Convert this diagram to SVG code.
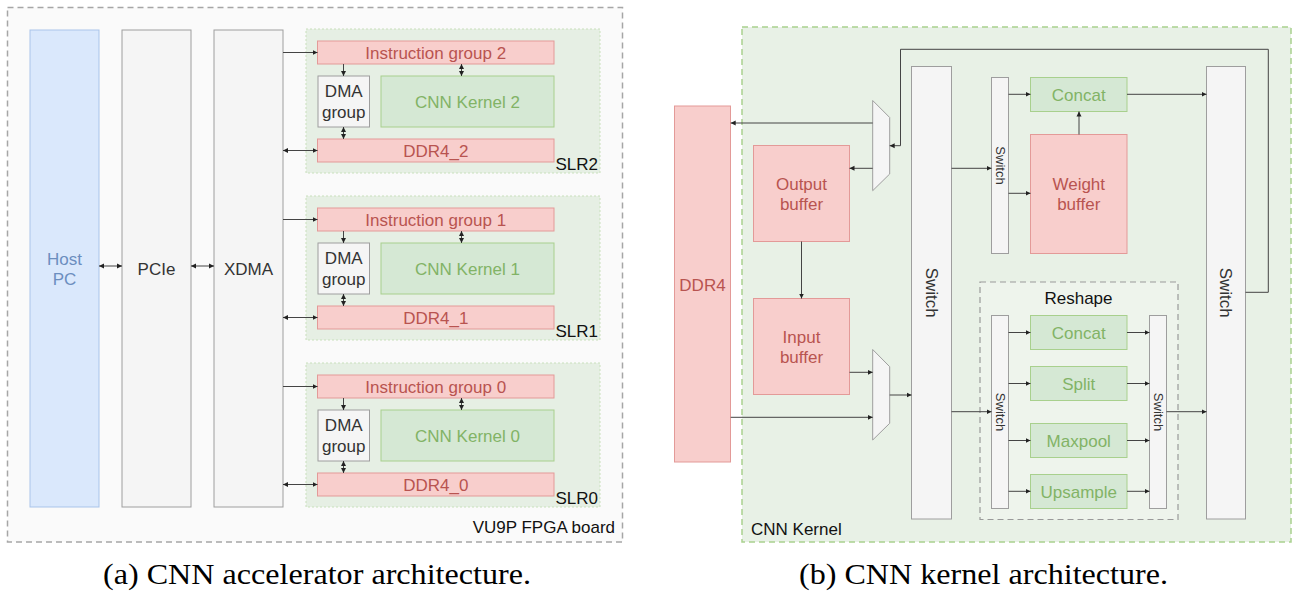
<svg xmlns="http://www.w3.org/2000/svg" width="1298" height="591" viewBox="0 0 1298 591">
<defs>
<marker id="ah" markerUnits="userSpaceOnUse" markerWidth="6" markerHeight="6" refX="5" refY="3" orient="auto-start-reverse"><path d="M0,0.5 L5,3 L0,5.5 z" fill="#222"/></marker>
<style>
text{font-family:"Liberation Sans",Arial,sans-serif;font-size:17px;text-anchor:middle}
.grey{fill:#f5f5f5;stroke:#9e9e9e;stroke-width:1}
.red{fill:#f8cecc;stroke:#e39a98;stroke-width:1}
.green{fill:#d5e8d4;stroke:#a8d08d;stroke-width:1}
.blue{fill:#dae8fc;stroke:#a9c4ea;stroke-width:1}
.tg{fill:#333}
.tr{fill:#b85450}
.tgr{fill:#82b366}
.tb{fill:#6c8ebf}
.tk{fill:#111}
.slr{fill:#e6efe4;stroke:#c9e0bc;stroke-width:1;stroke-dasharray:2 2}
.c{fill:none;stroke:#444;stroke-width:1}
.a{marker-end:url(#ah)}
.b{marker-start:url(#ah);marker-end:url(#ah)}
.cap{font-family:"Liberation Serif","Times New Roman",serif;font-size:29px;fill:#000}
.sw{font-size:13px}
</style>
</defs>

<!-- Left panel -->
<g id="fpga-board">
<rect x="7.5" y="7.5" width="615" height="534.5" fill="#fafafa" stroke="#a6a6a6" stroke-width="1.5" stroke-dasharray="6 4"/>
<text x="615" y="533" class="tk" style="text-anchor:end">VU9P FPGA board</text>
</g>
<g id="host-pc"><rect x="30" y="30" width="69" height="477" class="blue"/><text x="64.5" y="264.5" class="tb">Host</text><text x="64.5" y="285" class="tb">PC</text></g>
<g id="pcie"><rect x="122" y="30" width="69" height="477" class="grey"/><text x="156.5" y="274.5" class="tg">PCIe</text></g>
<g id="xdma"><rect x="214" y="30" width="69" height="477" class="grey"/><text x="248.5" y="274.5" class="tg">XDMA</text></g>

<g id="slr2">
<rect x="306" y="29" width="294" height="144" class="slr"/>
<text x="598" y="170" class="tk" style="text-anchor:end">SLR2</text>
</g>
<g id="instr2"><rect x="317.5" y="41" width="236.5" height="23" class="red"/><text x="435.75" y="58.5" class="tr">Instruction group 2</text></g>
<g id="dma2"><rect x="318" y="76" width="51.5" height="51" class="grey"/><text x="343.75" y="97.3" class="tg">DMA</text><text x="343.75" y="117.5" class="tg">group</text></g>
<g id="kernel2"><rect x="381" y="76" width="173" height="51" class="green"/><text x="467.5" y="107.5" class="tgr">CNN Kernel 2</text></g>
<g id="ddr4-2"><rect x="317.5" y="139" width="236.5" height="23" class="red"/><text x="435.75" y="156.5" class="tr">DDR4_2</text></g>

<g id="slr1">
<rect x="306" y="196" width="294" height="144" class="slr"/>
<text x="598" y="337" class="tk" style="text-anchor:end">SLR1</text>
</g>
<g id="instr1"><rect x="317.5" y="208" width="236.5" height="23" class="red"/><text x="435.75" y="225.5" class="tr">Instruction group 1</text></g>
<g id="dma1"><rect x="318" y="243" width="51.5" height="51" class="grey"/><text x="343.75" y="264.3" class="tg">DMA</text><text x="343.75" y="284.5" class="tg">group</text></g>
<g id="kernel1"><rect x="381" y="243" width="173" height="51" class="green"/><text x="467.5" y="274.5" class="tgr">CNN Kernel 1</text></g>
<g id="ddr4-1"><rect x="317.5" y="306" width="236.5" height="23" class="red"/><text x="435.75" y="323.5" class="tr">DDR4_1</text></g>

<g id="slr0">
<rect x="306" y="363" width="294" height="144" class="slr"/>
<text x="598" y="504" class="tk" style="text-anchor:end">SLR0</text>
</g>
<g id="instr0"><rect x="317.5" y="375" width="236.5" height="23" class="red"/><text x="435.75" y="392.5" class="tr">Instruction group 0</text></g>
<g id="dma0"><rect x="318" y="410" width="51.5" height="51" class="grey"/><text x="343.75" y="431.3" class="tg">DMA</text><text x="343.75" y="451.5" class="tg">group</text></g>
<g id="kernel0"><rect x="381" y="410" width="173" height="51" class="green"/><text x="467.5" y="441.5" class="tgr">CNN Kernel 0</text></g>
<g id="ddr4-0"><rect x="317.5" y="473" width="236.5" height="23" class="red"/><text x="435.75" y="490.5" class="tr">DDR4_0</text></g>

<!-- Right panel -->
<g id="cnn-kernel">
<rect x="742" y="27" width="549" height="515" fill="#e8f1e6" stroke="#a9d18e" stroke-width="1.5" stroke-dasharray="6 4"/>
<text x="751" y="535" class="tk" style="text-anchor:start">CNN Kernel</text>
</g>
<g id="ddr4"><rect x="674.5" y="106" width="56" height="356" class="red"/><text x="702.5" y="290.5" class="tr">DDR4</text></g>
<g id="output-buffer"><rect x="753.5" y="145.5" width="96" height="96" class="red"/><text x="801.5" y="189.5" class="tr">Output</text><text x="801.5" y="210" class="tr">buffer</text></g>
<g id="input-buffer"><rect x="753.5" y="298.5" width="96" height="96" class="red"/><text x="801.5" y="342.5" class="tr">Input</text><text x="801.5" y="363" class="tr">buffer</text></g>
<g id="mux-top"><polygon points="872.7,100.5 889.7,117.5 889.7,174 872.7,190.7" class="grey"/></g>
<g id="mux-bottom"><polygon points="872.7,349.5 889.7,366.7 889.7,423.3 872.7,440" class="grey"/></g>
<g id="switch-main"><rect x="911.5" y="66.5" width="40" height="452.5" class="grey"/><text transform="translate(931.5,292.75) rotate(90)" x="0" y="6" class="tg">Switch</text></g>
<g id="switch-weight"><rect x="991.5" y="77.5" width="17" height="176" class="grey"/><text transform="translate(1000,165.5) rotate(90)" x="0" y="4.5" class="tg sw">Switch</text></g>
<g id="concat-top"><rect x="1030.5" y="77.5" width="96.5" height="34" class="green"/><text x="1078.75" y="100.5" class="tgr">Concat</text></g>
<g id="weight-buffer"><rect x="1030.5" y="134.5" width="96.5" height="119" class="red"/><text x="1078.75" y="189.5" class="tr">Weight</text><text x="1078.75" y="210" class="tr">buffer</text></g>
<g id="switch-right"><rect x="1206.5" y="66.5" width="39" height="452.5" class="grey"/><text transform="translate(1226,292.75) rotate(90)" x="0" y="6" class="tg">Switch</text></g>
<g id="reshape">
<rect x="980" y="282" width="198" height="237.5" fill="#eef4ec" stroke="#9a9a9a" stroke-width="1.2" stroke-dasharray="6 4"/>
<text x="1078.5" y="304" class="tk">Reshape</text>
</g>
<g id="switch-reshape-in"><rect x="991.5" y="315.5" width="17" height="193" class="grey"/><text transform="translate(1000,412) rotate(90)" x="0" y="4.5" class="tg sw">Switch</text></g>
<g id="switch-reshape-out"><rect x="1149.5" y="315.5" width="17" height="193" class="grey"/><text transform="translate(1158,412) rotate(90)" x="0" y="4.5" class="tg sw">Switch</text></g>
<g id="concat"><rect x="1030.5" y="315.5" width="96.5" height="34" class="green"/><text x="1078.75" y="338.5" class="tgr">Concat</text></g>
<g id="split"><rect x="1030.5" y="366.5" width="96.5" height="34" class="green"/><text x="1078.75" y="389.5" class="tgr">Split</text></g>
<g id="maxpool"><rect x="1030.5" y="423.5" width="96.5" height="34" class="green"/><text x="1078.75" y="446.5" class="tgr">Maxpool</text></g>
<g id="upsample"><rect x="1030.5" y="474.5" width="96.5" height="34" class="green"/><text x="1078.75" y="497.5" class="tgr">Upsample</text></g>

<!-- Connectors -->
<g id="connectors">
<line x1="99" y1="266" x2="122" y2="266" class="c b"/>
<line x1="191" y1="266" x2="214" y2="266" class="c b"/>

<line x1="283" y1="52.5" x2="317.5" y2="52.5" class="c a"/>
<line x1="283" y1="150.5" x2="317.5" y2="150.5" class="c b"/>
<line x1="343.5" y1="64" x2="343.5" y2="76" class="c a"/>
<line x1="461.5" y1="64" x2="461.5" y2="76" class="c b"/>
<line x1="343.5" y1="127" x2="343.5" y2="139" class="c b"/>

<line x1="283" y1="219.5" x2="317.5" y2="219.5" class="c a"/>
<line x1="283" y1="317.5" x2="317.5" y2="317.5" class="c b"/>
<line x1="343.5" y1="231" x2="343.5" y2="243" class="c a"/>
<line x1="461.5" y1="231" x2="461.5" y2="243" class="c b"/>
<line x1="343.5" y1="294" x2="343.5" y2="306" class="c b"/>

<line x1="283" y1="386.5" x2="317.5" y2="386.5" class="c a"/>
<line x1="283" y1="484.5" x2="317.5" y2="484.5" class="c b"/>
<line x1="343.5" y1="398" x2="343.5" y2="410" class="c a"/>
<line x1="461.5" y1="398" x2="461.5" y2="410" class="c b"/>
<line x1="343.5" y1="461" x2="343.5" y2="473" class="c b"/>

<line x1="872.7" y1="123" x2="730.7" y2="123" class="c a"/>
<line x1="872.7" y1="168.3" x2="849.5" y2="168.3" class="c a"/>
<line x1="801.5" y1="241.5" x2="801.5" y2="298.5" class="c a"/>
<line x1="849.5" y1="372.3" x2="872.7" y2="372.3" class="c a"/>
<line x1="730.7" y1="417.3" x2="872.7" y2="417.3" class="c a"/>
<line x1="889.7" y1="395" x2="911.5" y2="395" class="c a"/>
<line x1="951.5" y1="168.3" x2="991.5" y2="168.3" class="c a"/>
<line x1="1008.5" y1="94.3" x2="1030.5" y2="94.3" class="c a"/>
<line x1="1008.5" y1="193.3" x2="1030.5" y2="193.3" class="c a"/>
<line x1="1079" y1="134.5" x2="1079" y2="111.5" class="c a"/>
<line x1="1127" y1="94.3" x2="1206.5" y2="94.3" class="c a"/>
<polyline points="1245.5,292.3 1268.3,292.3 1268.3,49.3 900.5,49.3 900.5,145.7 889.7,145.7" class="c a"/>
<line x1="951.5" y1="411.7" x2="991.5" y2="411.7" class="c a"/>
<line x1="1008.5" y1="332.5" x2="1030.5" y2="332.5" class="c a"/>
<line x1="1008.5" y1="383.5" x2="1030.5" y2="383.5" class="c a"/>
<line x1="1008.5" y1="440.5" x2="1030.5" y2="440.5" class="c a"/>
<line x1="1008.5" y1="491.3" x2="1030.5" y2="491.3" class="c a"/>
<line x1="1127" y1="332.5" x2="1149.5" y2="332.5" class="c a"/>
<line x1="1127" y1="383.5" x2="1149.5" y2="383.5" class="c a"/>
<line x1="1127" y1="440.5" x2="1149.5" y2="440.5" class="c a"/>
<line x1="1127" y1="491.3" x2="1149.5" y2="491.3" class="c a"/>
<line x1="1166.5" y1="411.7" x2="1206.5" y2="411.7" class="c a"/>
</g>

<g id="captions">
<text x="103" y="584" class="cap" style="text-anchor:start" textLength="428" lengthAdjust="spacingAndGlyphs">(a) CNN accelerator architecture.</text>
<text x="799" y="584" class="cap" style="text-anchor:start" textLength="369" lengthAdjust="spacingAndGlyphs">(b) CNN kernel architecture.</text>
</g>
</svg>
